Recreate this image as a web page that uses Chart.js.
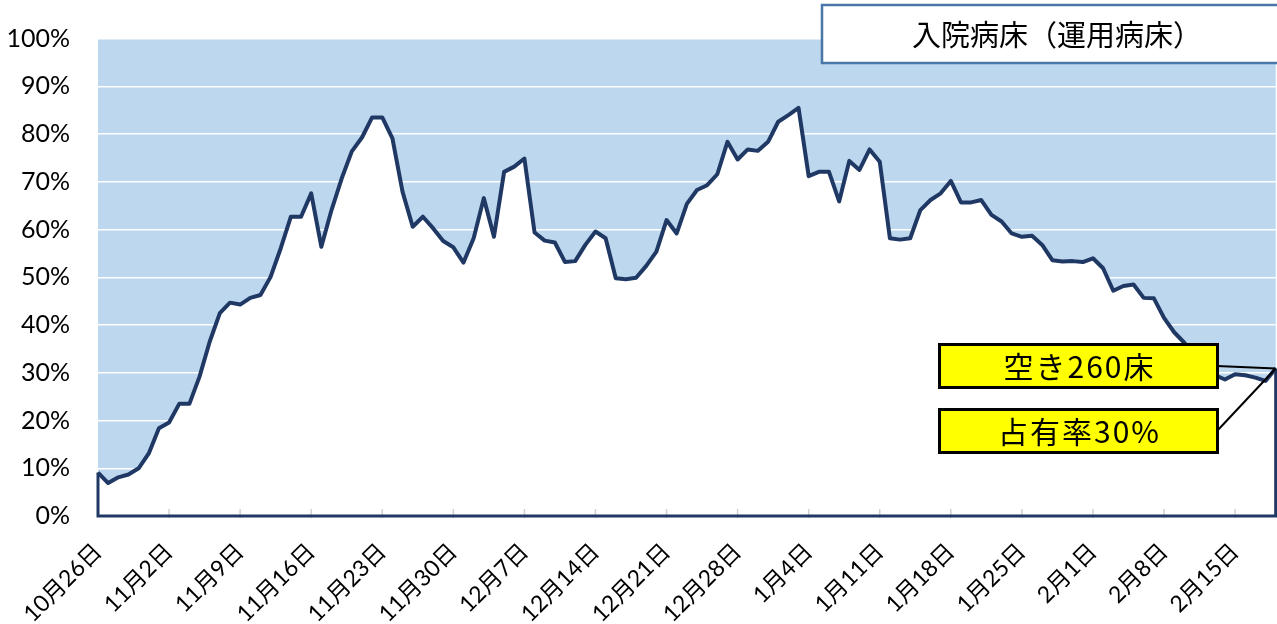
<!DOCTYPE html>
<html lang="ja">
<head>
<meta charset="utf-8">
<title>入院病床（運用病床）</title>
<script src="https://cdn.jsdelivr.net/npm/chart.js@4.4.0/dist/chart.umd.min.js"></script>
<style>
  html, body { margin: 0; padding: 0; background: #fff; }
  #wrap { width: 1277px; height: 624px; }
</style>
</head>
<body>
<div id="wrap"><canvas id="kaavio" width="1277" height="624"></canvas></div>
<script>
// 病床占有率（%）10月26日〜2月19日、日ごと
const occupancy = [
  9.1, 6.9, 8.1, 8.7, 10.0, 13.1, 18.4, 19.6, 23.5, 23.5,
  29.2, 36.5, 42.5, 44.7, 44.3, 45.7, 46.3, 50.1, 56.1, 62.7,
  62.7, 67.6, 56.4, 64.1, 70.7, 76.4, 79.3, 83.5, 83.5, 79.1,
  67.9, 60.6, 62.7, 60.3, 57.6, 56.3, 53.1, 58.2, 66.6, 58.5,
  72.1, 73.2, 74.9, 59.4, 57.7, 57.3, 53.2, 53.4, 56.8, 59.6,
  58.2, 49.8, 49.6, 49.9, 52.4, 55.4, 62.0, 59.2, 65.4, 68.3,
  69.3, 71.6, 78.4, 74.7, 76.8, 76.5, 78.4, 82.6, 84.0, 85.5,
  71.2, 72.1, 72.1, 65.9, 74.4, 72.5, 76.8, 74.2, 58.2, 57.9,
  58.2, 64.1, 66.2, 67.6, 70.2, 65.7, 65.7, 66.2, 63.1, 61.7,
  59.2, 58.5, 58.7, 56.8, 53.6, 53.3, 53.4, 53.2, 54.0, 51.9,
  47.2, 48.2, 48.5, 45.7, 45.6, 41.5, 38.5, 36.3, 33.8, 31.5,
  29.5, 28.6, 29.7, 29.5, 29.0, 28.3, 30.9
];

// 7日おきの目盛りラベル
const tickLabels = [
  '10月26日', '11月2日', '11月9日', '11月16日', '11月23日', '11月30日',
  '12月7日', '12月14日', '12月21日', '12月28日', '1月4日', '1月11日',
  '1月18日', '1月25日', '2月1日', '2月8日', '2月15日'
];
const tickStep = 7;

const yTicks = [0, 10, 20, 30, 40, 50, 60, 70, 80, 90, 100];

const otsikko = '入院病床（運用病床）';
const merkinnat = ['空き260床', '占有率30%'];

const dayLabels = occupancy.map((_, i) => i % tickStep === 0 ? tickLabels[i / tickStep] : '');

const navy = '#1F3864';
const fontLatin = 'Lato, "Noto Sans CJK JP", sans-serif';
const fontJp = '"Noto Sans CJK JP", sans-serif';

// plot background, polygon edges, annotation boxes
const koristeet = {
  id: 'koristeet',
  beforeDraw(chart) {
    const { ctx, chartArea: a } = chart;
    ctx.save();
    ctx.fillStyle = '#BDD7EE';
    ctx.fillRect(a.left, a.top, a.right - a.left, a.bottom - a.top);
    ctx.restore();
  },
  afterDatasetsDraw(chart) {
    const { ctx, scales: { x, y } } = chart;
    const n = occupancy.length;
    const x0 = x.getPixelForValue(0);
    const x1 = x.getPixelForValue(n - 1);
    const yb = y.getPixelForValue(0);
    ctx.save();
    // tick marks
    ctx.strokeStyle = '#D0D0D0';
    ctx.lineWidth = 1.5;
    for (let i = tickStep; i < n; i += tickStep) {
      const px = x.getPixelForValue(i);
      ctx.beginPath();
      ctx.moveTo(px, yb - 7);
      ctx.lineTo(px, yb + 2);
      ctx.stroke();
    }
    // area outline
    ctx.strokeStyle = navy;
    ctx.lineWidth = 3;
    ctx.lineJoin = 'miter';
    ctx.beginPath();
    ctx.moveTo(x0, y.getPixelForValue(occupancy[0]));
    ctx.lineTo(x0, yb);
    ctx.lineTo(x1, yb);
    ctx.lineTo(x1, y.getPixelForValue(occupancy[n - 1]));
    ctx.stroke();
    ctx.restore();
  },
  afterDraw(chart) {
    const { ctx, scales: { x, y } } = chart;
    const n = occupancy.length;
    const ex = x.getPixelForValue(n - 1);
    const ey = y.getPixelForValue(occupancy[n - 1]);
    ctx.save();

    // title box
    ctx.fillStyle = '#FFFFFF';
    ctx.fillRect(822, 5, 480, 58);
    ctx.strokeStyle = '#4A76A8';
    ctx.lineWidth = 2.5;
    ctx.strokeRect(822, 5, 480, 58);
    ctx.fillStyle = '#000';
    ctx.font = '29px ' + fontJp;
    ctx.textAlign = 'left';
    ctx.textBaseline = 'middle';
    ctx.fillText(otsikko, 912, 35);

    // leader lines
    ctx.strokeStyle = '#000';
    ctx.lineWidth = 2;
    ctx.beginPath();
    ctx.moveTo(1217, 366);
    ctx.lineTo(ex, ey);
    ctx.moveTo(1217, 431);
    ctx.lineTo(ex, ey);
    ctx.stroke();

    // yellow boxes
    const laatikot = [[939.5, 344.5], [939.5, 409.5]];
    laatikot.forEach(([bx, by], k) => {
      ctx.fillStyle = '#FFFF00';
      ctx.fillRect(bx, by, 278, 43);
      ctx.strokeStyle = '#000';
      ctx.lineWidth = 3;
      ctx.strokeRect(bx, by, 278, 43);
      ctx.fillStyle = '#000';
      ctx.font = '30px ' + fontJp;
      ctx.textAlign = 'center';
      ctx.textBaseline = 'middle';
      if ('letterSpacing' in ctx) ctx.letterSpacing = '2px';
      ctx.fillText(merkinnat[k], bx + 139 + 1, by + 22);
      if ('letterSpacing' in ctx) ctx.letterSpacing = '0px';
    });
    ctx.restore();
  }
};

new Chart(document.getElementById('kaavio'), {
  type: 'line',
  data: {
    labels: dayLabels,
    datasets: [{
      data: occupancy,
      borderColor: navy,
      borderWidth: 4,
      borderJoinStyle: 'round',
      backgroundColor: '#FFFFFF',
      fill: 'origin',
      pointRadius: 0,
      tension: 0
    }]
  },
  options: {
    responsive: false,
    animation: false,
    layout: { padding: { top: 38.7, right: 1.3, left: 0, bottom: 0 } },
    plugins: {
      legend: { display: false },
      tooltip: { enabled: false }
    },
    scales: {
      x: {
        offset: false,
        grid: { display: false },
        border: { display: false },
        ticks: {
          autoSkip: false,
          minRotation: 45,
          maxRotation: 45,
          padding: 14,
          color: '#000',
          font: { family: fontLatin, size: 23 },
          callback: (v, i) => dayLabels[i]
        },
        afterFit: (s) => { s.height = 108; s.paddingLeft = 0; s.paddingRight = 0; }
      },
      y: {
        min: 0,
        max: 100,
        afterBuildTicks: (s) => { s.ticks = yTicks.map(v => ({ value: v })); },
        grid: { color: '#FFFFFF', lineWidth: 1.5, drawTicks: false },
        border: { display: false },
        ticks: {
          padding: 28,
          color: '#000',
          font: { family: fontLatin, size: 25 },
          callback: (v) => v + '%'
        },
        afterFit: (s) => { s.width = 98; s.paddingTop = 0; s.paddingBottom = 0; }
      }
    }
  },
  plugins: [koristeet]
});
</script>
</body>
</html>
